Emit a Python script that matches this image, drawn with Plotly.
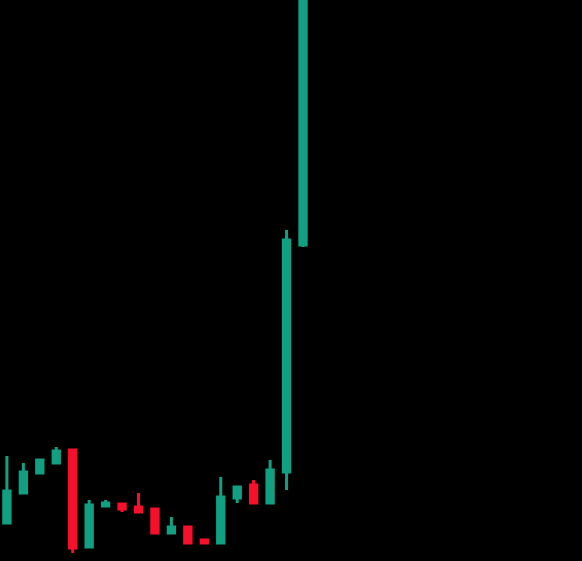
import plotly.graph_objects as go

# Candle index (no axis labels are visible in the reference)
idx = list(range(19))

open_ = [3.8, 6.8, 8.8, 9.8, 11.1, 1.4, 5.5, 5.7, 5.4, 5.2, 2.8, 3.4, 2.1, 1.8, 6.3, 7.6, 5.8, 8.9, 31.6]
high = [10.5, 9.8, 10.1, 11.4, 11.1, 6.1, 6.1, 5.7, 6.8, 5.2, 4.4, 3.4, 2.1, 8.4, 7.4, 8.1, 10.1, 33.1, 70.0]
low = [3.8, 6.8, 8.8, 9.8, 0.8, 1.4, 5.5, 4.9, 4.9, 2.8, 2.8, 1.8, 1.8, 1.8, 5.8, 5.8, 5.8, 7.1, 31.4]
close = [7.0, 8.9, 10.1, 11.0, 1.3, 5.6, 5.8, 5.2, 4.9, 2.8, 3.4, 1.8, 1.8, 6.4, 7.4, 5.8, 9.1, 32.1, 68.0]

UP = "#12a083"
DOWN = "#f7102b"

fig = go.Figure(
    go.Candlestick(
        x=idx,
        open=open_,
        high=high,
        low=low,
        close=close,
        increasing=dict(line=dict(color=UP, width=3), fillcolor=UP),
        decreasing=dict(line=dict(color=DOWN, width=3), fillcolor=DOWN),
        whiskerwidth=0,
        hoverinfo="skip",
    )
)

fig.update_layout(
    width=582,
    height=561,
    margin=dict(l=0, r=0, t=0, b=0),
    paper_bgcolor="#000000",
    plot_bgcolor="#000000",
    showlegend=False,
    boxgap=0.45,
    xaxis=dict(
        range=[-0.42, 34.96],
        rangeslider=dict(visible=False),
        showgrid=False,
        zeroline=False,
        showticklabels=False,
        showline=False,
        ticks="",
    ),
    yaxis=dict(
        range=[0, 56.1],
        showgrid=False,
        zeroline=False,
        showticklabels=False,
        showline=False,
        ticks="",
    ),
)

fig.write_html(
    "out.html",
    config={"displayModeBar": False},
    post_script="document.body.style.margin='0';document.body.style.background='#000';document.body.style.overflow='hidden';",
)
